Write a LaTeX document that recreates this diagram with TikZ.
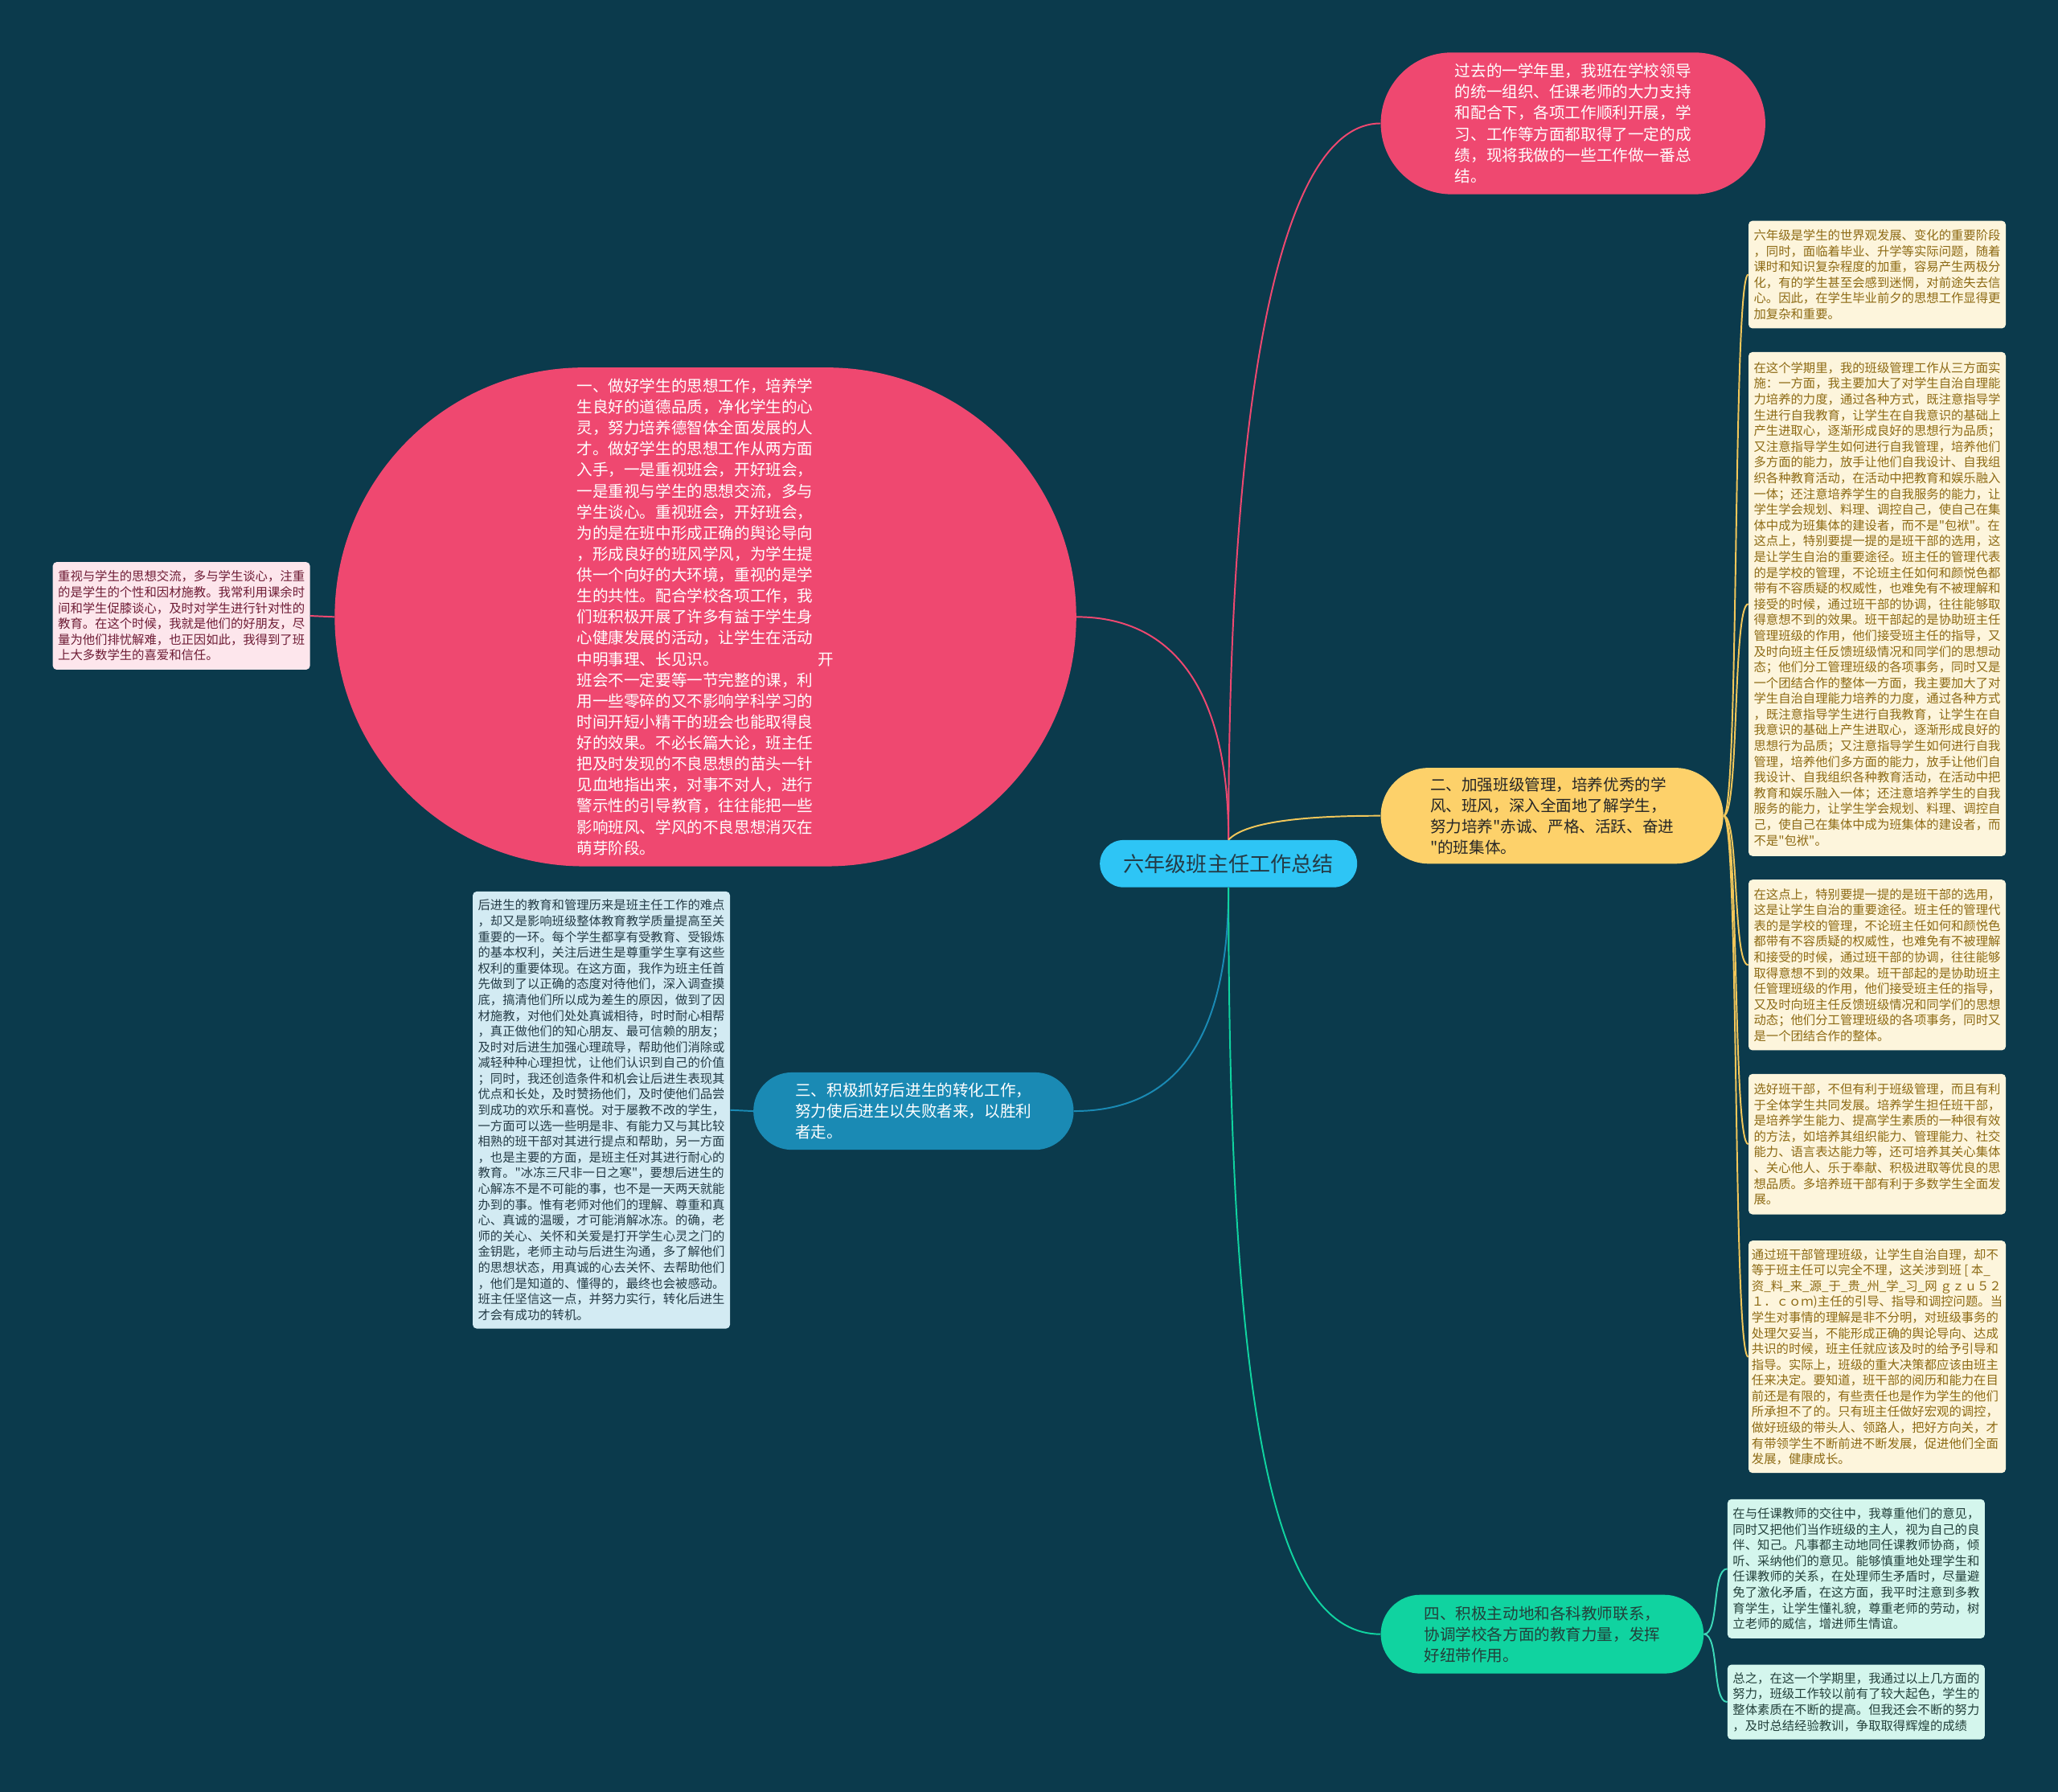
\documentclass[tikz,border=0pt]{standalone}
\usepackage{fontspec}
\newfontfamily\cjk{Noto Sans CJK SC}[Ligatures=TeXOff]
\usetikzlibrary{shapes.misc}
\definecolor{bg}{HTML}{0B3A4C}
\definecolor{pk}{HTML}{EF4870}
\definecolor{cb}{HTML}{2EC5F5}
\definecolor{yl}{HTML}{FDD16A}
\definecolor{gr}{HTML}{10D3A0}
\definecolor{bl}{HTML}{1A8AB4}
\definecolor{ynote}{HTML}{FDF5DC}
\definecolor{ytext}{HTML}{8D6A14}
\definecolor{pnote}{HTML}{FDE6EC}
\definecolor{ptext}{HTML}{6E1C35}
\definecolor{bnote}{HTML}{D3EBF3}
\definecolor{btext}{HTML}{243B46}
\definecolor{gnote}{HTML}{D4F6ED}
\definecolor{gtext}{HTML}{23403B}
\definecolor{ylink}{HTML}{F2C75A}
\definecolor{glink}{HTML}{3DD8B8}
\begin{document}
\begin{tikzpicture}[x=1pt,y=-1pt,
  topic/.style={rounded rectangle, inner sep=0pt, align=left, font=\cjk\fontsize{12}{16}\selectfont},
  note/.style={rounded corners=3pt, inner sep=0pt, align=left, anchor=north west, minimum width=196pt, font=\cjk\fontsize{9.4}{12}\selectfont},
  link/.style={line width=1.2pt},
]
\fill[bg] (0,0) rectangle (1568,1365);
\useasboundingbox (0,0) rectangle (1568,1365);

% central topic
\node[rounded rectangle, inner sep=0pt, fill=cb, text=btext, minimum width=196pt, minimum height=36pt, font=\cjk\fontsize{16}{20}\selectfont] (C) at (936,658) {六年级班主任工作总结};

% main topics
\node[topic, fill=pk, text=white, minimum width=293pt, minimum height=108pt] (P) at (1198.5,94) {过去的一学年里，我班在学校领导\\的统一组织、任课老师的大力支持\\和配合下，各项工作顺利开展，学\\习、工作等方面都取得了一定的成\\绩，现将我做的一些工作做一番总\\结。};

\node[topic, fill=pk, text=white, minimum width=565pt, minimum height=380pt] (E) at (537.5,470) {一、做好学生的思想工作，培养学\\生良好的道德品质，净化学生的心\\灵，努力培养德智体全面发展的人\\才。做好学生的思想工作从两方面\\入手，一是重视班会，开好班会，\\一是重视与学生的思想交流，多与\\学生谈心。重视班会，开好班会，\\为的是在班中形成正确的舆论导向\\，形成良好的班风学风，为学生提\\供一个向好的大环境，重视的是学\\生的共性。配合学校各项工作，我\\们班积极开展了许多有益于学生身\\心健康发展的活动，让学生在活动\\中明事理、长见识。\hspace{76pt}开\\班会不一定要等一节完整的课，利\\用一些零碎的又不影响学科学习的\\时间开短小精干的班会也能取得良\\好的效果。不必长篇大论，班主任\\把及时发现的不良思想的苗头一针\\见血地指出来，对事不对人，进行\\警示性的引导教育，往往能把一些\\影响班风、学风的不良思想消灭在\\萌芽阶段。};

\node[topic, fill=yl, text=black!85, minimum width=261pt, minimum height=73pt] (Y) at (1182.5,621.5) {二、加强班级管理，培养优秀的学\\风、班风，深入全面地了解学生，\\努力培养"赤诚、严格、活跃、奋进\\"的班集体。};

\node[topic, fill=bl, text=white, minimum width=244pt, minimum height=59pt] (B) at (696,846.5) {三、积极抓好后进生的转化工作，\\努力使后进生以失败者来，以胜利\\者走。};

\node[topic, fill=gr, text=gtext, minimum width=246pt, minimum height=60pt] (G) at (1175,1245) {四、积极主动地和各科教师联系，\\协调学校各方面的教育力量，发挥\\好纽带作用。};

% notes
\node[note, fill=pnote, text=ptext, minimum height=82pt] (LP) at (40,428) {重视与学生的思想交流，多与学生谈心，注重\\的是学生的个性和因材施教。我常利用课余时\\间和学生促膝谈心，及时对学生进行针对性的\\教育。在这个时候，我就是他们的好朋友，尽\\量为他们排忧解难，也正因如此，我得到了班\\上大多数学生的喜爱和信任。};

\node[note, fill=bnote, text=btext, minimum height=333pt] (LB) at (360,679) {后进生的教育和管理历来是班主任工作的难点\\，却又是影响班级整体教育教学质量提高至关\\重要的一环。每个学生都享有受教育、受锻炼\\的基本权利，关注后进生是尊重学生享有这些\\权利的重要体现。在这方面，我作为班主任首\\先做到了以正确的态度对待他们，深入调查摸\\底，搞清他们所以成为差生的原因，做到了因\\材施教，对他们处处真诚相待，时时耐心相帮\\，真正做他们的知心朋友、最可信赖的朋友；\\及时对后进生加强心理疏导，帮助他们消除或\\减轻种种心理担忧，让他们认识到自己的价值\\；同时，我还创造条件和机会让后进生表现其\\优点和长处，及时赞扬他们，及时使他们品尝\\到成功的欢乐和喜悦。对于屡教不改的学生，\\一方面可以选一些明是非、有能力又与其比较\\相熟的班干部对其进行提点和帮助，另一方面\\，也是主要的方面，是班主任对其进行耐心的\\教育。"冰冻三尺非一日之寒"，要想后进生的\\心解冻不是不可能的事，也不是一天两天就能\\办到的事。惟有老师对他们的理解、尊重和真\\心、真诚的温暖，才可能消解冰冻。的确，老\\师的关心、关怀和关爱是打开学生心灵之门的\\金钥匙，老师主动与后进生沟通，多了解他们\\的思想状态，用真诚的心去关怀、去帮助他们\\，他们是知道的、懂得的，最终也会被感动。\\班主任坚信这一点，并努力实行，转化后进生\\才会有成功的转机。};

\node[note, fill=ynote, text=ytext, minimum height=82pt] (Y1) at (1332,168) {六年级是学生的世界观发展、变化的重要阶段\\，同时，面临着毕业、升学等实际问题，随着\\课时和知识复杂程度的加重，容易产生两极分\\化，有的学生甚至会感到迷惘，对前途失去信\\心。因此，在学生毕业前夕的思想工作显得更\\加复杂和重要。};

\node[note, fill=ynote, text=ytext, minimum height=384pt] (Y2) at (1332,268) {在这个学期里，我的班级管理工作从三方面实\\施：一方面，我主要加大了对学生自治自理能\\力培养的力度，通过各种方式，既注意指导学\\生进行自我教育，让学生在自我意识的基础上\\产生进取心，逐渐形成良好的思想行为品质；\\又注意指导学生如何进行自我管理，培养他们\\多方面的能力，放手让他们自我设计、自我组\\织各种教育活动，在活动中把教育和娱乐融入\\一体；还注意培养学生的自我服务的能力，让\\学生学会规划、料理、调控自己，使自己在集\\体中成为班集体的建设者，而不是"包袱"。在\\这点上，特别要提一提的是班干部的选用，这\\是让学生自治的重要途径。班主任的管理代表\\的是学校的管理，不论班主任如何和颜悦色都\\带有不容质疑的权威性，也难免有不被理解和\\接受的时候，通过班干部的协调，往往能够取\\得意想不到的效果。班干部起的是协助班主任\\管理班级的作用，他们接受班主任的指导，又\\及时向班主任反馈班级情况和同学们的思想动\\态；他们分工管理班级的各项事务，同时又是\\一个团结合作的整体一方面，我主要加大了对\\学生自治自理能力培养的力度，通过各种方式\\，既注意指导学生进行自我教育，让学生在自\\我意识的基础上产生进取心，逐渐形成良好的\\思想行为品质；又注意指导学生如何进行自我\\管理，培养他们多方面的能力，放手让他们自\\我设计、自我组织各种教育活动，在活动中把\\教育和娱乐融入一体；还注意培养学生的自我\\服务的能力，让学生学会规划、料理、调控自\\己，使自己在集体中成为班集体的建设者，而\\不是"包袱"。};

\node[note, fill=ynote, text=ytext, minimum height=130pt] (Y3) at (1332,670) {在这点上，特别要提一提的是班干部的选用，\\这是让学生自治的重要途径。班主任的管理代\\表的是学校的管理，不论班主任如何和颜悦色\\都带有不容质疑的权威性，也难免有不被理解\\和接受的时候，通过班干部的协调，往往能够\\取得意想不到的效果。班干部起的是协助班主\\任管理班级的作用，他们接受班主任的指导，\\又及时向班主任反馈班级情况和同学们的思想\\动态；他们分工管理班级的各项事务，同时又\\是一个团结合作的整体。};

\node[note, fill=ynote, text=ytext, minimum height=107pt] (Y4) at (1332,818) {选好班干部，不但有利于班级管理，而且有利\\于全体学生共同发展。培养学生担任班干部，\\是培养学生能力、提高学生素质的一种很有效\\的方法，如培养其组织能力、管理能力、社交\\能力、语言表达能力等，还可培养其关心集体\\、关心他人、乐于奉献、积极进取等优良的思\\想品质。多培养班干部有利于多数学生全面发\\展。};

\node[note, fill=ynote, text=ytext, minimum height=177pt] (Y5) at (1332,945) {通过班干部管理班级，让学生自治自理，却不\\等于班主任可以完全不理，这关涉到班 [ 本\_\\资\_料\_来\_源\_于\_贵\_州\_学\_习\_网 ｇｚｕ５２\\１．ｃｏｍ)主任的引导、指导和调控问题。当\\学生对事情的理解是非不分明，对班级事务的\\处理欠妥当，不能形成正确的舆论导向、达成\\共识的时候，班主任就应该及时的给予引导和\\指导。实际上，班级的重大决策都应该由班主\\任来决定。要知道，班干部的阅历和能力在目\\前还是有限的，有些责任也是作为学生的他们\\所承担不了的。只有班主任做好宏观的调控，\\做好班级的带头人、领路人，把好方向关，才\\有带领学生不断前进不断发展，促进他们全面\\发展，健康成长。};

\node[note, fill=gnote, text=gtext, minimum height=106pt] (G1) at (1316,1142) {在与任课教师的交往中，我尊重他们的意见，\\同时又把他们当作班级的主人，视为自己的良\\伴、知己。凡事都主动地同任课教师协商，倾\\听、采纳他们的意见。能够慎重地处理学生和\\任课教师的关系，在处理师生矛盾时，尽量避\\免了激化矛盾，在这方面，我平时注意到多教\\育学生，让学生懂礼貌，尊重老师的劳动，树\\立老师的威信，增进师生情谊。};

\node[note, fill=gnote, text=gtext, minimum height=57pt] (G2) at (1316,1268) {总之，在这一个学期里，我通过以上几方面的\\努力，班级工作较以前有了较大起色，学生的\\整体素质在不断的提高。但我还会不断的努力\\，及时总结经验教训，争取取得辉煌的成绩};

% connectors from the centre
\draw[link, pk] (C.north) .. controls (936,300) and (975,94) .. (P.west);
\draw[link, pk] (C.north) .. controls (936,520) and (890,470) .. (E.east);
\draw[link, ylink] (C.north) .. controls (950,625) and (1000,621.5) .. (Y.west);
\draw[link, bl] (C.south) .. controls (936,800) and (890,846.5) .. (B.east);
\draw[link, gr] (C.south) .. controls (936,1100) and (975,1245) .. (G.west);

% connectors to notes
\draw[link, pk] (E.west) -- (LP.east);
\draw[link, bl] (B.west) -- (LB.east);
\foreach \n in {Y1,Y2,Y3,Y4,Y5}
  \draw[link, ylink] (Y.east) .. controls +(12,0) and +(-12,0) .. (\n.west);
\foreach \n in {G1,G2}
  \draw[link, glink] (G.east) .. controls +(12,0) and +(-12,0) .. (\n.west);
\end{tikzpicture}
\end{document}
